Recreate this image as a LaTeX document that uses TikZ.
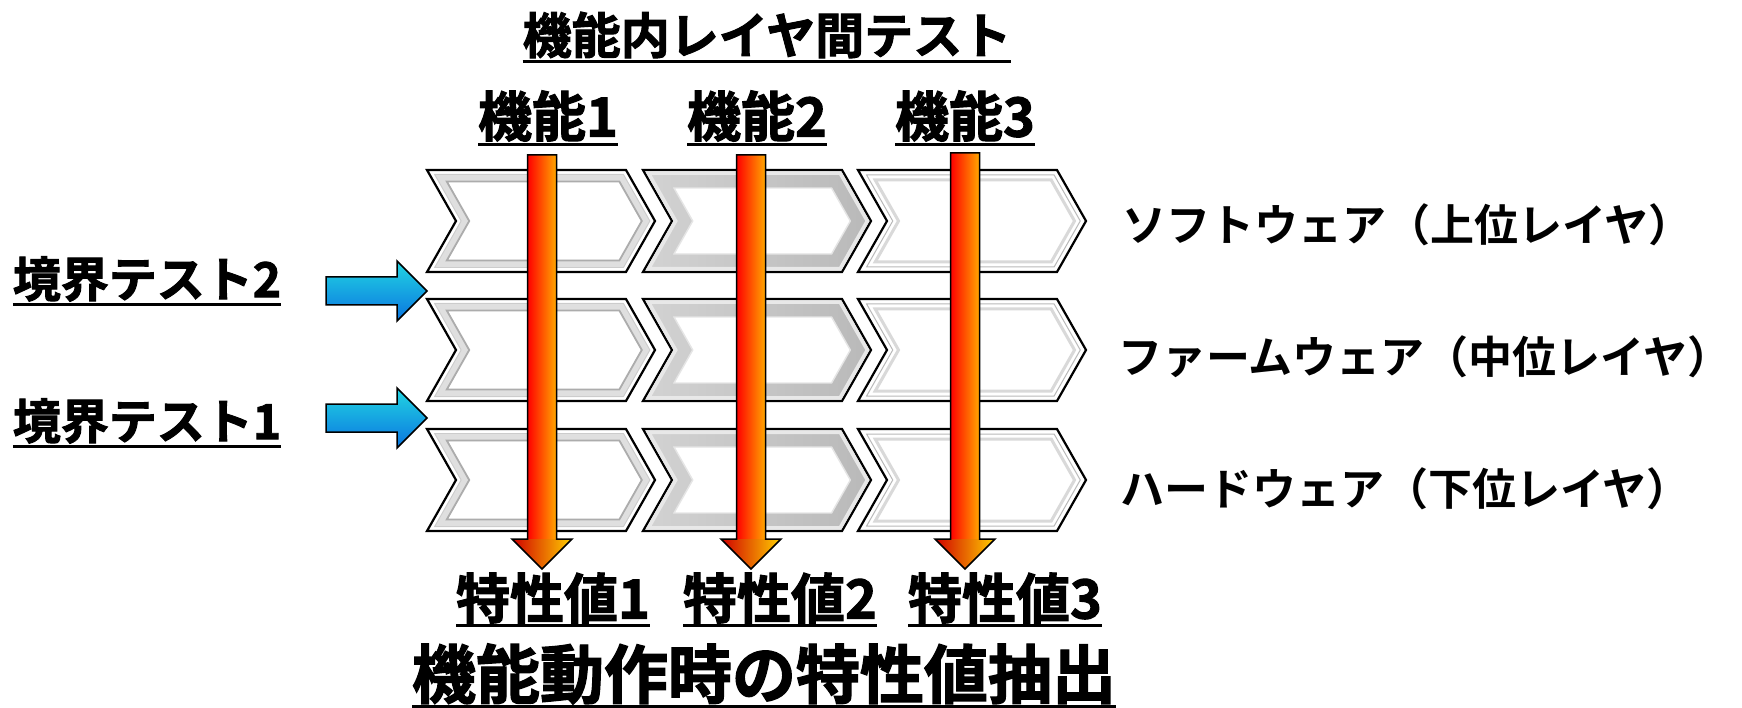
\documentclass[tikz,border=0pt]{standalone}
\usepackage{fontspec}
\newfontfamily\jph{Noto Sans CJK JP Bold}[FakeBold=2]
\newfontfamily\jpm{Noto Sans CJK JP Bold}
\usetikzlibrary{calc}
\definecolor{bluetop}{HTML}{22D6E2}
\definecolor{bluebot}{HTML}{0A74E0}
\definecolor{redL}{HTML}{FF0000}
\definecolor{orangeR}{HTML}{FFA800}
\definecolor{headL}{HTML}{D00000}
\definecolor{headR}{HTML}{FFD000}
\newcommand{\cw}{228}
\newcommand{\cd}{29}
\newcommand{\ch}{102}
% chevron path: left x, top y, inset t
\newcommand{\chv}[3]{({#1+1.72*#3},{#2+#3}) -- ({#1+\cw-\cd-0.58*#3},{#2+#3}) -- ({#1+\cw-1.15*#3},{#2+\ch/2}) -- ({#1+\cw-\cd-0.58*#3},{#2+\ch-#3}) -- ({#1+1.72*#3},{#2+\ch-#3}) -- ({#1+\cd+1.15*#3},{#2+\ch/2}) -- cycle}
\tikzset{
  lbl/.style={inner sep=0pt, outer sep=0pt, text=black},
  ul/.style={line width=3pt, black},
  chevout/.style={line width=2.2pt, draw=black, fill=white, line join=miter},
  arrowline/.style={line width=1.5pt, draw=black, line join=miter},
}
% frame chevron (column 1)
\newcommand{\chevA}[2]{%
  \draw[chevout] \chv{#1}{#2}{0};
  \fill[even odd rule, gray!25] \chv{#1}{#2}{4} \chv{#1}{#2}{12};
  \draw[gray!65, line width=1.8pt] \chv{#1}{#2}{11.5};
  \draw[gray!40, line width=0.8pt] \chv{#1}{#2}{4.5};
}
% bevel chevron (column 2)
\newcommand{\chevB}[2]{%
  \draw[chevout] \chv{#1}{#2}{0};
  \shade[even odd rule, left color=gray!35, middle color=white, right color=gray!55] \chv{#1}{#2}{1.5} \chv{#1}{#2}{18};
  \fill[even odd rule, gray!18] \chv{#1}{#2}{1.5} \chv{#1}{#2}{5};
  \draw[gray!20, line width=1.4pt] \chv{#1}{#2}{18};
}
% thin-line chevron (column 3)
\newcommand{\chevC}[2]{%
  \draw[chevout] \chv{#1}{#2}{0};
  \draw[gray!30, line width=3pt] \chv{#1}{#2}{10};
  \draw[gray!55, line width=1pt] \chv{#1}{#2}{5};
}
% red down arrow: x, top y, tip y
\newcommand{\redarrow}[3]{%
  \shade[left color=redL, right color=orangeR] ({#1-14.5},#2) rectangle ({#1+14.5},{#3-30});
  \shade[left color=headL, right color=headR] ({#1-30},{#3-30}) -- ({#1+30},{#3-30}) -- (#1,#3) -- cycle;
  \draw[arrowline] ({#1-14.5},#2) -- ({#1+14.5},#2) -- ({#1+14.5},{#3-30}) -- ({#1+30},{#3-30}) -- (#1,#3) -- ({#1-30},{#3-30}) -- ({#1-14.5},{#3-30}) -- cycle;
}
% blue right arrow: y centre
\newcommand{\bluearrow}[1]{%
  \shadedraw[top color=bluetop, bottom color=bluebot, arrowline] (326,{#1-14}) -- (397,{#1-14}) -- (397,{#1-30}) -- (427,#1) -- (397,{#1+30}) -- (397,{#1+14}) -- (326,{#1+14}) -- cycle;
}
\begin{document}
\begin{tikzpicture}[x=1pt,y=-1pt]
\useasboundingbox (0,0) rectangle (1742,708);
\fill[white] (0,0) rectangle (1742,708);

% chevrons
\foreach \yy in {170,299,429}{
  \chevA{427}{\yy}
  \chevB{643}{\yy}
  \chevC{858}{\yy}
}
\coordinate (row1) at (427,221);
\coordinate (row2) at (427,350);
\coordinate (row3) at (427,480);

% red arrows
\redarrow{542}{155}{569}
\redarrow{751}{155}{569}
\redarrow{965}{153}{569}

% blue arrows
\bluearrow{291}
\bluearrow{418}

% titles
\node[lbl, font=\jph\fontsize{49}{50}\selectfont] (title) at (767,35) {機能内レイヤ間テスト};
\draw[ul] ([yshift=-3pt]title.south west) -- ([yshift=-3pt]title.south east);

\node[lbl, font=\jph\fontsize{54}{56}\selectfont] (f1) at (548,116) {機能1};
\node[lbl, font=\jph\fontsize{54}{56}\selectfont] (f2) at (757,116) {機能2};
\node[lbl, font=\jph\fontsize{54}{56}\selectfont] (f3) at (965,116) {機能3};
\foreach \n in {f1,f2,f3}{\draw[ul] ([yshift=-3pt]\n.south west) -- ([yshift=-3pt]\n.south east);}

\node[lbl, font=\jph\fontsize{54}{56}\selectfont] (c1) at (553,598) {特性値1};
\node[lbl, font=\jph\fontsize{54}{56}\selectfont] (c2) at (780,598) {特性値2};
\node[lbl, font=\jph\fontsize{54}{56}\selectfont] (c3) at (1005,598) {特性値3};
\foreach \n in {c1,c2,c3}{\draw[ul] ([yshift=-2pt]\n.south west) -- ([yshift=-2pt]\n.south east);}

\node[lbl, font=\jph\fontsize{64}{66}\selectfont] (bottom) at (764,674) {機能動作時の特性値抽出};
\draw[ul] ([yshift=-2pt]bottom.south west) -- ([yshift=-2pt]bottom.south east);

\node[lbl, font=\jph\fontsize{48}{50}\selectfont] (bt2) at (147,279) {境界テスト2};
\node[lbl, font=\jph\fontsize{48}{50}\selectfont] (bt1) at (147,421) {境界テスト1};
\foreach \n in {bt1,bt2}{\draw[ul] ([yshift=-3pt]\n.south west) -- ([yshift=-3pt]\n.south east);}

\node[lbl, anchor=west, font=\jpm\fontsize{44}{46}\selectfont] (sw) at (1122,225) {ソフトウェア（上位レイヤ）};
\node[lbl, anchor=west, font=\jpm\fontsize{44}{46}\selectfont] (fw) at (1118,357) {ファームウェア（中位レイヤ）};
\node[lbl, anchor=west, font=\jpm\fontsize{44}{46}\selectfont] (hw) at (1120,489) {ハードウェア（下位レイヤ）};
\end{tikzpicture}
\end{document}
